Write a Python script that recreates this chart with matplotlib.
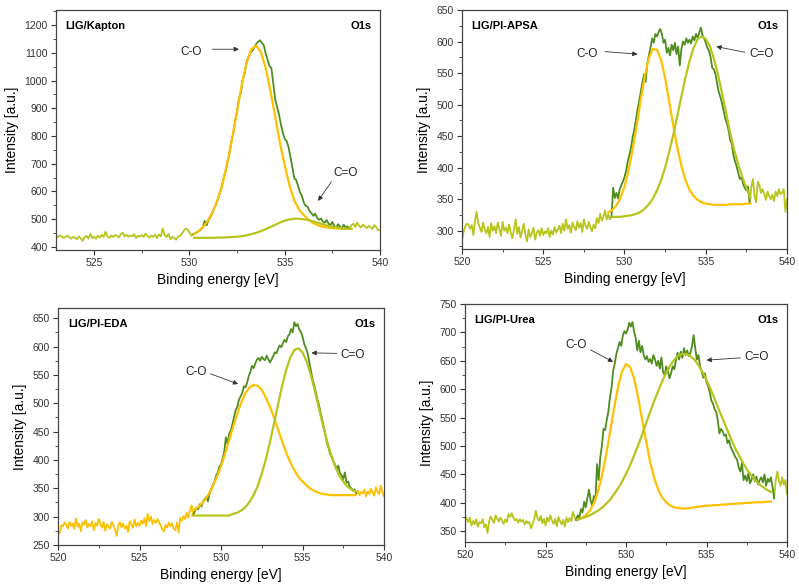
import numpy as np
import matplotlib
matplotlib.use("Agg")
import matplotlib.pyplot as plt
from matplotlib.ticker import MultipleLocator

plt.rcParams['font.family'] = ['Liberation Sans', 'DejaVu Sans']

# ---------------- data ----------------
# raw spectra, 0.1 eV step
raw_step = 0.1
comp_step = 0.25

# LIG/Kapton, raw from 523.0 to 540.0
kap_raw_start = 523.0
kap_raw = [
    440, 436, 442, 438, 433, 437, 441, 435, 430, 436,
    433, 428, 438, 431, 422, 435, 440, 430, 447, 432,
    437, 429, 441, 434, 444, 436, 455, 438, 433, 442,
    436, 443, 440, 435, 446, 452, 438, 444, 437, 441,
    439, 446, 433, 441, 437, 443, 436, 448, 440, 434,
    441, 437, 444, 432, 445, 438, 466, 442, 436, 447,
    428, 437, 432, 426, 438, 440, 447, 458, 466, 463,
    452, 440, 446, 450, 453, 458, 462, 470, 494, 478,
    496, 508, 522, 540, 553, 576, 596, 618, 648, 674,
    710, 735, 781, 808, 855, 886, 934, 958, 1003, 1028,
    1068, 1085, 1100, 1108, 1118, 1132, 1140, 1145, 1136, 1128,
    1098, 1075, 1052, 1045, 990, 932, 905, 878, 842, 812,
    790, 782, 760, 725, 688, 648, 642, 620, 598, 585,
    560, 548, 545, 530, 522, 512, 520, 505, 498, 503,
    492, 488, 497, 484, 479, 490, 475, 470, 482, 473,
    468, 480, 470, 474, 466, 478, 484, 472, 488, 476,
    470, 481, 474, 468, 476, 471, 465, 479, 472, 460,
    462]
kap_fit_range = (530.2, 538.4)
kap_comp_start = 530.25
kap_co = [446, 458, 475, 498, 530, 573, 632, 706, 795, 891, 986, 1063, 1113,
          1126, 1103, 1046, 964, 870, 775, 695, 622, 568, 535, 515, 498, 486,
          478, 473, 470, 468, 467, 466, 465, 465]
kap_c2o = [433, 433, 433, 433, 433, 434, 434, 435, 436, 437, 439, 442, 446,
           451, 457, 464, 472, 480, 488, 495, 499, 502, 502, 500, 497, 492,
           487, 482, 477, 473, 470, 467, 466, 465]

# LIG/PI-APSA, raw from 520.0 to 540.0
apsa_raw_start = 520.0
apsa_raw = [
    285, 298, 307, 311, 310, 303, 309, 293, 315, 330,
    312, 305, 298, 313, 302, 296, 306, 290, 312, 300,
    307, 296, 313, 303, 292, 314, 300, 305, 296, 310,
    297, 288, 302, 318, 295, 306, 289, 300, 311, 294,
    283, 302, 290, 296, 305, 286, 297, 301, 292, 304,
    293, 299, 296, 304, 290, 300, 294, 306, 297, 302,
    308, 296, 311, 300, 318, 303, 309, 297, 313, 306,
    301, 315, 305, 312, 298, 318, 308, 303, 314, 306,
    299, 310, 304, 320, 312, 327, 316, 322, 332, 318,
    326, 318, 322, 368, 352, 360, 351, 365, 372, 378,
    385, 395, 410, 420, 432, 448, 460, 475, 492, 505,
    520, 535, 548, 536, 565, 578, 590, 605, 598, 612,
    608, 615, 620, 612, 598, 603, 582, 590, 578, 595,
    586, 598, 580, 592, 562, 588, 600, 595, 605, 598,
    603, 597, 608, 602, 612, 606, 614, 622, 610, 605,
    598, 590, 585, 575, 558, 556, 548, 533, 520, 512,
    502, 490, 478, 470, 460, 444, 438, 420, 410, 402,
    391, 382, 385, 374, 368, 364, 370, 344, 368, 382,
    356, 345, 378, 372, 360, 366, 358, 349, 362, 355,
    350, 357, 347, 362, 355, 366, 358, 360, 366, 330,
    350]
apsa_fit_range = (529.2, 537.7)
apsa_co_start = 529.0
apsa_co = [329, 333, 340, 352, 370, 396, 429, 467, 508, 545, 574, 588, 587,
           571, 542, 505, 467, 432, 403, 380, 365, 355, 349, 345, 343, 342,
           341, 341, 341, 341, 342, 342, 342, 342, 343, 343]
apsa_c2o_start = 529.25
apsa_c2o = [322, 322, 322, 323, 324, 325, 327, 330, 335, 342, 351, 364, 380,
            400, 425, 452, 482, 513, 543, 569, 590, 604, 608, 604, 593, 573,
            548, 518, 487, 455, 428, 405, 385, 368, 352]

# LIG/PI-EDA, raw from 520.0 to 540.0
eda_raw_start = 520.0
eda_raw = [
    276, 271, 285, 283, 290, 286, 279, 291, 284, 288,
    278, 297, 282, 288, 274, 290, 286, 294, 281, 287,
    283, 292, 276, 289, 284, 296, 288, 280, 291, 275,
    287, 282, 279, 291, 284, 277, 266, 285, 290, 281,
    288, 279, 284, 273, 292, 286, 280, 295, 283, 289,
    284, 293, 288, 297, 283, 305, 292, 300, 287, 294,
    289, 296, 290, 284, 278, 274, 286, 281, 290, 283,
    288, 279, 276, 290, 272, 298, 293, 301, 296, 307,
    298, 312, 320, 303, 310, 316, 313, 322, 318, 327,
    331, 335, 327, 342, 348, 356, 362, 372, 378, 388,
    392, 402, 415, 440, 428, 446, 452, 463, 476, 488,
    494, 506, 512, 518, 530, 528, 536, 548, 555, 566,
    562, 570, 577, 580, 575, 582, 578, 576, 584, 578,
    572, 577, 583, 590, 588, 596, 602, 599, 606, 612,
    608, 618, 622, 631, 625, 643, 636, 640, 630, 626,
    618, 605, 598, 590, 575, 560, 545, 533, 522, 508,
    498, 485, 472, 459, 446, 430, 421, 410, 405, 397,
    392, 383, 390, 376, 373, 366, 378, 360, 362, 352,
    350, 346, 348, 341, 346, 338, 344, 341, 348, 336,
    345, 340, 349, 342, 337, 352, 344, 340, 355, 343,
    336]
eda_fit_range = (528.3, 538.3)
eda_comp_start = 528.25
eda_co = [310, 315, 321, 329, 340, 354, 370, 389, 411, 435, 459, 482, 502,
          518, 528, 532, 531, 524, 510, 494, 475, 454, 433, 413, 396, 382,
          370, 362, 355, 349, 345, 342, 340, 339, 338, 338, 338, 338, 338,
          338, 338]
eda_c2o = [302, 302, 302, 302, 302, 302, 302, 302, 302, 302, 305, 307, 311,
           317, 326, 338, 354, 376, 401, 431, 464, 498, 531, 559, 581, 594,
           597, 590, 574, 551, 523, 492, 462, 434, 409, 389, 373, 362, 353,
           348, 344]

# LIG/PI-Urea, raw from 520.0 to 540.0
urea_raw_start = 520.0
urea_raw = [
    376, 372, 366, 374, 360, 368, 362, 371, 358, 366,
    364, 371, 357, 362, 347, 368, 376, 370, 365, 378,
    372, 367, 374, 369, 363, 371, 366, 380, 375, 382,
    374, 369, 372, 365, 371, 367, 370, 362, 368, 364,
    366, 355, 363, 371, 386, 373, 368, 377, 364, 372,
    360, 374, 367, 378, 369, 363, 372, 359, 375, 368,
    362, 370, 358, 374, 366, 373, 368, 384, 375, 370,
    378, 373, 389, 383, 402, 392, 408, 423, 404, 395,
    412, 405, 468, 440, 480, 500, 530, 528, 545, 560,
    585, 602, 632, 645, 662, 672, 683, 676, 694, 702,
    698, 705, 717, 710, 718, 702, 690, 668, 685, 665,
    676, 660, 652, 658, 648, 653, 645, 660, 652, 641,
    650, 636, 656, 630, 625, 640, 632, 619, 628, 640,
    635, 650, 664, 652, 666, 655, 672, 660, 668, 658,
    664, 676, 695, 672, 652, 660, 640, 632, 620, 628,
    612, 605, 595, 580, 575, 565, 560, 545, 522, 530,
    526, 518, 520, 505, 510, 498, 492, 486, 480, 476,
    462, 455, 470, 440, 448, 438, 452, 434, 441, 450,
    438, 446, 432, 440, 445, 436, 450, 430, 442, 437,
    445, 428, 408, 440, 455, 438, 430, 445, 432, 440,
    415]
urea_fit_range = (526.9, 539.2)
urea_comp_start = 527.0
urea_co = [371, 373, 378, 386, 399, 419, 447, 482, 523, 565, 603, 631, 644,
           639, 619, 586, 546, 508, 472, 444, 423, 409, 401, 395, 392, 391,
           390, 390, 391, 392, 393, 394, 395, 395, 396, 396, 397, 397, 398,
           398, 399, 399, 400, 400, 401, 401, 401, 402, 402]
urea_c2o = [370, 373, 375, 378, 382, 386, 391, 398, 405, 415, 425, 437, 451,
            466, 483, 501, 520, 540, 560, 579, 597, 614, 629, 642, 652, 659,
            662, 662, 658, 652, 642, 630, 616, 600, 583, 565, 548, 531, 514,
            498, 484, 471, 459, 449, 441, 433, 428, 423, 419]

# ---------------- style ----------------
dark_green = '#4e8d1e'
yellow = '#ffc000'
yellow_green = '#b6c41c'
arrow_col = '#333333'


def energy(start, n, step):
    return start + step * np.arange(n)


def draw_panel(ax, raw_start, raw, fit_range, co_start, co, c2o_start, c2o,
               wing_color, title, xlim, ylim, ymajor, yminor):
    x = energy(raw_start, len(raw), raw_step)
    y = np.array(raw, dtype=float)
    lo, hi = fit_range
    inside = (x >= lo - 1e-6) & (x <= hi + 1e-6)
    left = x <= lo + 1e-6
    right = x >= hi - 1e-6
    ax.plot(x[left], y[left], color=wing_color, lw=1.3)
    ax.plot(x[right], y[right], color=wing_color, lw=1.3)
    ax.plot(x[inside], y[inside], color=dark_green, lw=1.3)
    xc = energy(co_start, len(co), comp_step)
    ax.plot(xc, co, color=yellow, lw=1.6)
    xg = energy(c2o_start, len(c2o), comp_step)
    ax.plot(xg, c2o, color=yellow_green, lw=1.6)

    ax.set_xlim(*xlim)
    ax.set_ylim(*ylim)
    ax.xaxis.set_major_locator(MultipleLocator(5))
    ax.xaxis.set_minor_locator(MultipleLocator(2.5))
    ax.yaxis.set_major_locator(MultipleLocator(ymajor))
    ax.yaxis.set_minor_locator(MultipleLocator(yminor))
    ax.tick_params(which='both', direction='out', top=False, right=False,
                   labelsize=7.5, labelcolor='#333333', color='#333333',
                   pad=2.5)
    ax.tick_params(which='major', length=3.5)
    ax.tick_params(which='minor', length=2)
    for s in ax.spines.values():
        s.set_color('#444444')
        s.set_linewidth(0.9)
    ax.set_xlabel('Binding energy [eV]', fontsize=10, labelpad=3)
    ax.set_ylabel('Intensity [a.u.]', fontsize=10, labelpad=4)
    ax.text(0.03, 0.955, title, transform=ax.transAxes, fontsize=8,
            fontweight='bold', va='top', ha='left')
    ax.text(0.975, 0.955, 'O1s', transform=ax.transAxes, fontsize=8,
            fontweight='bold', va='top', ha='right')


def label(ax, text, text_xy, start, end):
    ax.text(text_xy[0], text_xy[1], text, fontsize=8.5, ha='center',
            va='center', color='#222222')
    ax.annotate('', xy=end, xytext=start,
                arrowprops=dict(arrowstyle='-|>', color=arrow_col, lw=0.6,
                                mutation_scale=7, shrinkA=0, shrinkB=0))


fig = plt.figure(figsize=(7.99, 5.88), dpi=100)

ax1 = fig.add_axes([0.0701, 0.5748, 0.4055, 0.408])
draw_panel(ax1, kap_raw_start, kap_raw, kap_fit_range, kap_comp_start, kap_co,
           kap_comp_start, kap_c2o, yellow_green, 'LIG/Kapton',
           (523, 540), (389, 1254), 100, 50)
label(ax1, 'C-O', (530.1, 1102), (531.2, 1113), (532.6, 1113))
label(ax1, 'C=O', (538.2, 666), (537.45, 635), (536.75, 566))

ax2 = fig.add_axes([0.5782, 0.5765, 0.4068, 0.4065])
draw_panel(ax2, apsa_raw_start, apsa_raw, apsa_fit_range, apsa_co_start,
           apsa_co, apsa_c2o_start, apsa_c2o, yellow_green, 'LIG/PI-APSA',
           (520, 540), (271, 650), 50, 25)
label(ax2, 'C-O', (527.7, 581), (528.8, 584), (530.8, 580))
label(ax2, 'C=O', (538.45, 581), (537.4, 583), (535.65, 592))

ax3 = fig.add_axes([0.0726, 0.0731, 0.408, 0.403])
draw_panel(ax3, eda_raw_start, eda_raw, eda_fit_range, eda_comp_start, eda_co,
           eda_comp_start, eda_c2o, yellow, 'LIG/PI-EDA',
           (520, 540), (250, 668), 50, 25)
label(ax3, 'C-O', (528.45, 556), (529.35, 552), (531.05, 534))
label(ax3, 'C=O', (538.1, 585), (537.1, 588), (535.55, 589))

ax4 = fig.add_axes([0.582, 0.0782, 0.403, 0.405])
draw_panel(ax4, urea_raw_start, urea_raw, urea_fit_range, urea_comp_start,
           urea_co, urea_comp_start, urea_c2o, yellow_green, 'LIG/PI-Urea',
           (520, 540), (331, 750), 50, 25)
label(ax4, 'C-O', (526.9, 678), (527.8, 669), (529.2, 648))
label(ax4, 'C=O', (538.1, 657), (537.1, 655), (535.0, 651))

fig.savefig('out.png', dpi=100)
